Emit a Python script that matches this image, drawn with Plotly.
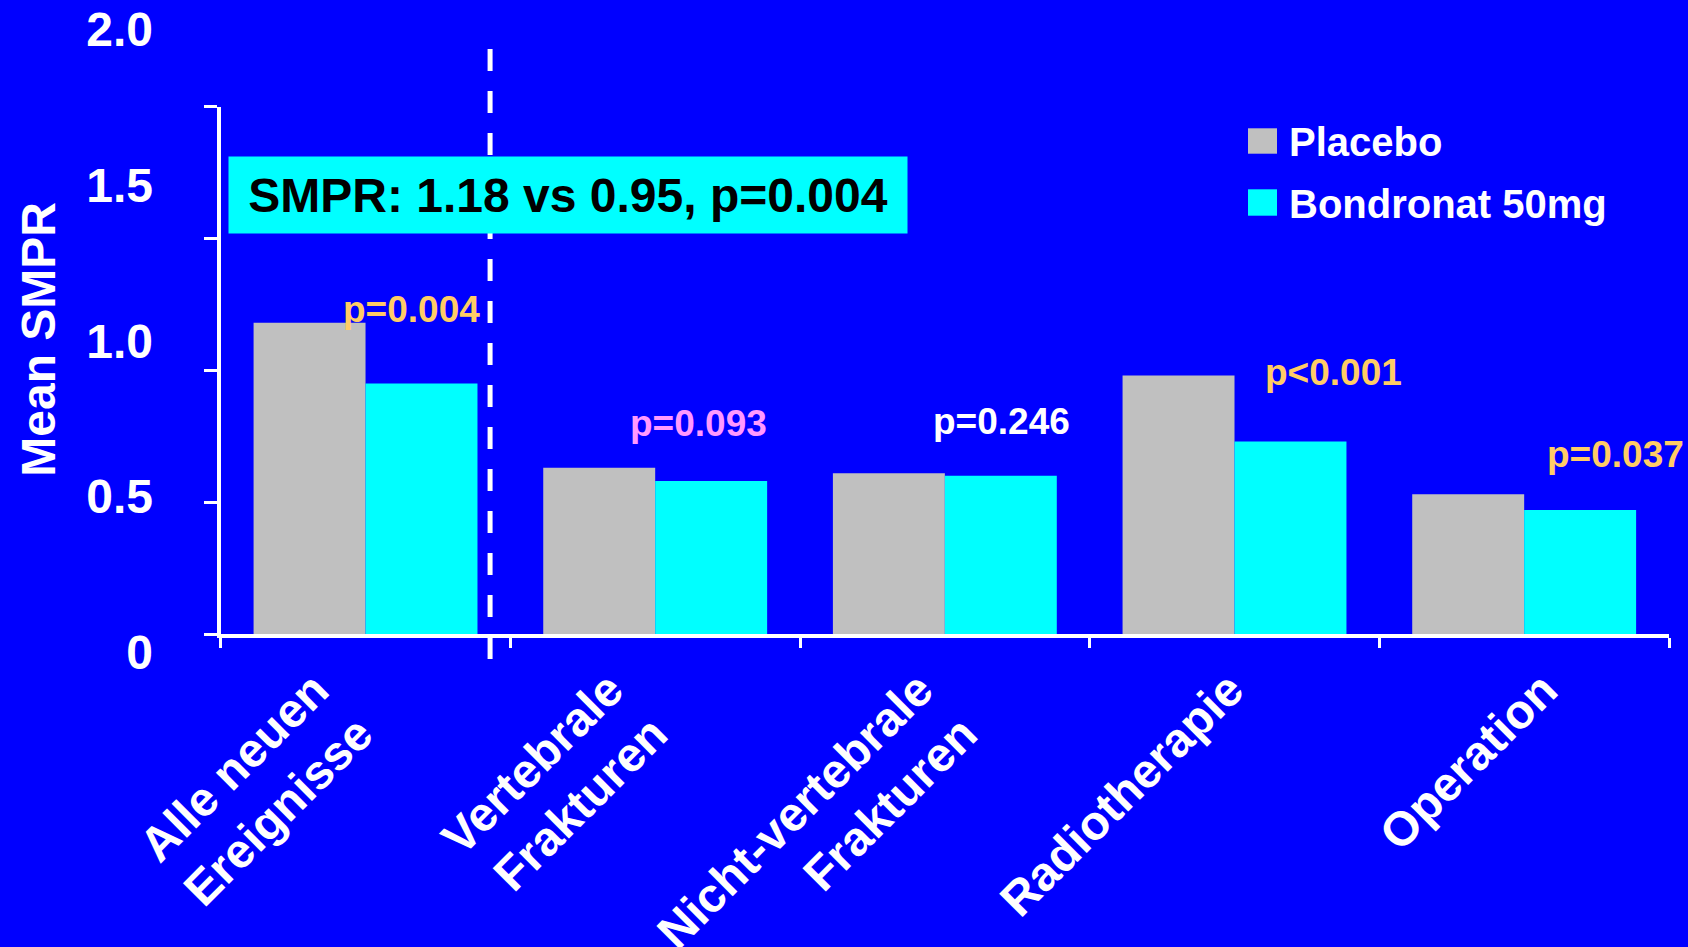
import plotly.graph_objects as go

# ---------------- data ----------------
categories = ["Alle neuen<br>Ereignisse", "Vertebrale<br>Frakturen",
              "Nicht-vertebrale<br>Frakturen", "Radiotherapie", "Operation"]
placebo = [1.18, 0.63, 0.61, 0.98, 0.53]
bondronat = [0.95, 0.58, 0.60, 0.73, 0.47]
series_names = ["Placebo", "Bondronat 50mg"]
p_values = ["p=0.004", "p=0.093", "p=0.246", "p<0.001", "p=0.037"]
y_tick_values = [0, 0.5, 1.0, 1.5, 2.0]
y_tick_labels = ["0", "0.5", "1.0", "1.5", "2.0"]
y_title = "Mean SMPR"

# ---------------- styles / placement ----------------
FONT = "Liberation Sans, Arial, sans-serif"
BG = "#0000FF"
series_colors = ["#C0C0C0", "#00FFFF"]
p_colors = ["#FFCC66", "#FF99FF", "#FFFFFF", "#FFCC66", "#FFCC66"]
p_pos_x = [0.158, 1.148, 2.194, 3.343, 4.314]
p_pos_y = [1.229, 0.798, 0.804, 0.990, 0.681]
label_shift = [-51, -46, -26, -5, 19]   # horizontal nudge of each category label (px)

W, H = 1688, 947
PAPER_W, PAPER_H = 1669, 700   # margins: l=0, r=19, t=0, b=247


def px_x(p):
    return p / PAPER_W


def px_y(p):
    return (PAPER_H - p) / PAPER_H


fig = go.Figure()
for name, vals, col in zip(series_names, [placebo, bondronat], series_colors):
    fig.add_trace(go.Bar(x=categories, y=vals, name=name, marker_color=col,
                         marker_line_width=0, showlegend=False, hoverinfo="skip"))

# invisible carriers for the label-only axes
fig.add_trace(go.Scatter(x=[], y=[], xaxis="x", yaxis="y2", showlegend=False, hoverinfo="skip"))
for i in range(len(categories)):
    fig.add_trace(go.Scatter(x=[], y=[], xaxis=f"x{i + 2}", yaxis="y",
                             showlegend=False, hoverinfo="skip"))

annotations = []
# p-values
for t, c, x, y in zip(p_values, p_colors, p_pos_x, p_pos_y):
    annotations.append(dict(x=x, y=y, xref="x", yref="y", text=t, showarrow=False,
                            font=dict(family=FONT, size=37, color=c, weight="bold"),
                            xanchor="center", yanchor="middle"))
# summary box
summary = f"SMPR: {placebo[0]:.2f} vs {bondronat[0]:.2f}, {p_values[0]}"
annotations.append(dict(x=0.70, y=1.663, xref="x", yref="y", text=summary, showarrow=False,
                        font=dict(family=FONT, size=48, color="#000000", weight="bold"),
                        bgcolor="#00FFFF", width=678, height=76, borderpad=0,
                        xanchor="center", yanchor="middle"))
# y-axis title
annotations.append(dict(x=px_x(37.7), y=px_y(339), xref="paper", yref="paper",
                        text=y_title, textangle=-90, showarrow=False,
                        xanchor="center", yanchor="middle",
                        font=dict(family=FONT, size=48, color="white", weight="bold")))

shapes = []
# dashed separator
shapes.append(dict(type="line", xref="x", yref="paper", x0=0.43, x1=0.43,
                   y0=px_y(659), y1=px_y(48),
                   line=dict(color="white", width=5, dash="22px,20px")))

# manual legend
leg_rows = [(128.3, 153.7, 142), (189.3, 215.7, 204)]
for (y0, y1, yc), name, col in zip(leg_rows, series_names, series_colors):
    shapes.append(dict(type="rect", xref="paper", yref="paper",
                       x0=px_x(1248), x1=px_x(1277), y0=px_y(y1), y1=px_y(y0),
                       fillcolor=col, line=dict(width=0)))
    annotations.append(dict(x=px_x(1287), y=px_y(yc), xref="paper", yref="paper",
                            text=name, showarrow=False, xanchor="left", yanchor="middle",
                            font=dict(family=FONT, size=40, color="white", weight="bold")))

XDOM = [220.7 / PAPER_W, 1.0]
label_axes = {}
for i, cat in enumerate(categories):
    label_axes[f"xaxis{i + 2}"] = dict(
        overlaying="x", anchor="y", side="bottom", domain=XDOM,
        type="linear", range=[-0.5, len(categories) - 0.5], automargin=False,
        tickmode="array", tickvals=[i], ticktext=[cat], ticks="", tickangle=-45,
        tickfont=dict(family=FONT, size=48, color="white", weight="bold"),
        showline=False, showgrid=False, zeroline=False, fixedrange=True,
        ticklabelstandoff=17, ticklabelshift=label_shift[i])

fig.update_layout(
    template="none",
    width=W, height=H,
    margin=dict(l=0, r=19, t=0, b=247, pad=0, autoexpand=False),
    paper_bgcolor=BG, plot_bgcolor="rgba(0,0,0,0)",
    barmode="group", bargap=0.227, bargroupgap=0,
    showlegend=False,
    font=dict(family=FONT, color="white"),
    xaxis=dict(domain=XDOM, range=[-0.5, 4.5], automargin=False,
               showline=True, linecolor="white", linewidth=4,
               ticks="outside", ticklen=10, tickwidth=3, tickcolor="white",
               tickson="boundaries", showticklabels=False,
               showgrid=False, zeroline=False, fixedrange=True),
    yaxis=dict(domain=[px_y(634), px_y(106.6)], range=[0, 2.0], automargin=False,
               showline=True, linecolor="white", linewidth=4,
               ticks="outside", ticklen=13, tickwidth=3, tickcolor="white",
               tickvals=y_tick_values, showticklabels=False,
               showgrid=False, zeroline=False, fixedrange=True),
    yaxis2=dict(anchor="free", position=153 / PAPER_W, domain=[0, 1], automargin=False,
                range=[-0.1543, 2.0954], side="left",
                tickvals=y_tick_values, ticktext=y_tick_labels, ticks="",
                tickfont=dict(family=FONT, size=48, color="white", weight="bold"),
                showline=False, showgrid=False, zeroline=False, fixedrange=True),
    annotations=annotations,
    shapes=shapes,
    **label_axes,
)

fig.write_html("out.html", config={"displayModeBar": False})
